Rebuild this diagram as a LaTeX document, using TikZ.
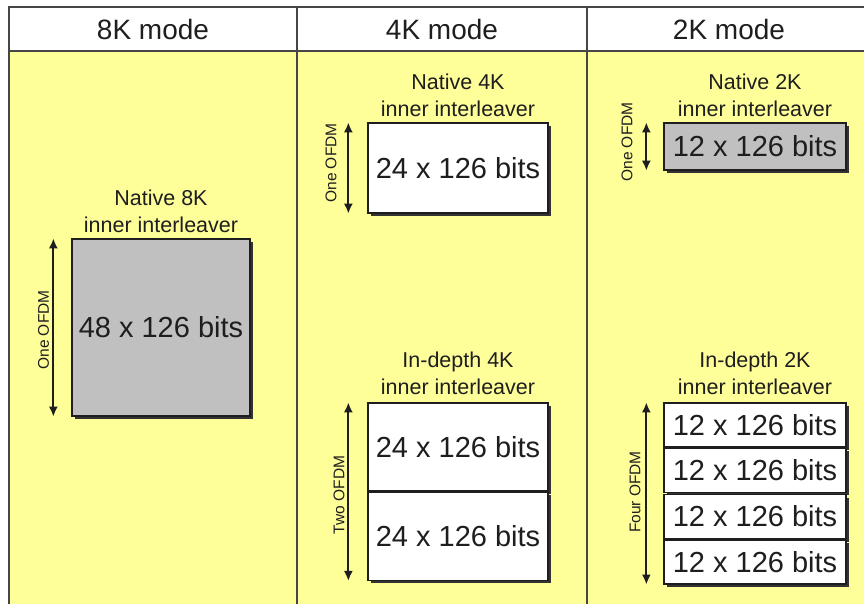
\documentclass[tikz,border=0pt]{standalone}
\usepackage{fontspec}
\setmainfont{Liberation Sans}
\usepackage{tikz}
\usetikzlibrary{arrows.meta, positioning, shadows}
\definecolor{panelyellow}{RGB}{255,255,153}
\definecolor{boxgray}{RGB}{192,192,192}
\definecolor{inkdark}{RGB}{30,30,30}
\definecolor{gridline}{RGB}{70,70,70}

\begin{document}
\begin{tikzpicture}[
  x=1pt, y=-1pt,
  every node/.style={text=inkdark},
  header/.style={font=\fontsize{28}{32}\selectfont},
  title/.style={font=\fontsize{21.5}{27}\selectfont, align=center, inner sep=0pt},
  bitbox/.style={rectangle, draw=inkdark, line width=1.3pt, fill=white,
                 font=\fontsize{29}{33}\selectfont, inner sep=0pt,
                 drop shadow={shadow xshift=3pt, shadow yshift=-3pt, fill=black!80, opacity=1}},
  graybox/.style={bitbox, fill=boxgray},
  ofdm/.style={font=\fontsize{15.5}{18}\selectfont, rotate=90, inner sep=0pt},
  dim/.style={{Latex[length=10pt,width=9pt]}-{Latex[length=10pt,width=9pt]}, line width=2pt, inkdark},
  grid/.style={line width=2pt, gridline},
]
\useasboundingbox (0,0) rectangle (864,603);
\clip (0,0) rectangle (864,603);

% Table
\fill[panelyellow] (9,51) rectangle (871,610);
\draw[grid] (9,610) |- (871,7);
\draw[grid] (9,51) -- (871,51);
\draw[grid] (297,7) -- (297,610);
\draw[grid] (587,7) -- (587,610);

\node[header] (h8) at (153,29) {8K mode};
\node[header] (h4) at (442,29) {4K mode};
\node[header] (h2) at (729,29) {2K mode};

% Column 1 — 8K
\node[graybox, minimum width=178pt, minimum height=177pt] (box8) at (161,327.5) {48 x 126 bits};
\node[title, above=5pt of box8] (t8) {Native 8K\\inner interleaver};
\draw[dim] ([xshift=-18pt]box8.north west) -- ([xshift=-18pt]box8.south west);
\node[ofdm] (l8) at (43.5,330) {One OFDM};

% Column 2 — 4K
\node[bitbox, minimum width=180pt, minimum height=90pt] (box4n) at (458,168) {24 x 126 bits};
\node[title, above=5pt of box4n] (t4n) {Native 4K\\inner interleaver};
\draw[dim] ([xshift=-19pt]box4n.north west) -- ([xshift=-19pt]box4n.south west);
\node[ofdm] (l4n) at (331,163) {One OFDM};

\node[bitbox, minimum width=180pt, minimum height=88pt] (box4a) at (458,447) {24 x 126 bits};
\node[bitbox, minimum width=180pt, minimum height=88pt, below=0pt of box4a] (box4b) {24 x 126 bits};
\node[title, above=7pt of box4a] (t4d) {In-depth 4K\\inner interleaver};
\draw[dim] ([xshift=-19pt]box4a.north west) -- ([xshift=-19pt]box4b.south west);
\node[ofdm] (l4d) at (339,495) {Two OFDM};

% Column 3 — 2K
\node[graybox, minimum width=182pt, minimum height=47pt] (box2n) at (755,146.5) {12 x 126 bits};
\node[title, above=5pt of box2n] (t2n) {Native 2K\\inner interleaver};
\draw[dim] ([xshift=-17pt]box2n.north west) -- ([xshift=-17pt]box2n.south west);
\node[ofdm] (l2n) at (627,142) {One OFDM};

\node[bitbox, minimum width=182pt, minimum height=44pt] (box2a) at (755,425) {12 x 126 bits};
\node[bitbox, minimum width=182pt, minimum height=44pt, below=0pt of box2a] (box2b) {12 x 126 bits};
\node[bitbox, minimum width=182pt, minimum height=44pt, below=1pt of box2b] (box2c) {12 x 126 bits};
\node[bitbox, minimum width=182pt, minimum height=44pt, below=0pt of box2c] (box2d) {12 x 126 bits};
\node[title, above=7pt of box2a] (t2d) {In-depth 2K\\inner interleaver};
\draw[dim] ([xshift=-17pt]box2a.north west) -- ([xshift=-17pt]box2d.south west);
\node[ofdm] (l2d) at (635,492) {Four OFDM};

\end{tikzpicture}
\end{document}
